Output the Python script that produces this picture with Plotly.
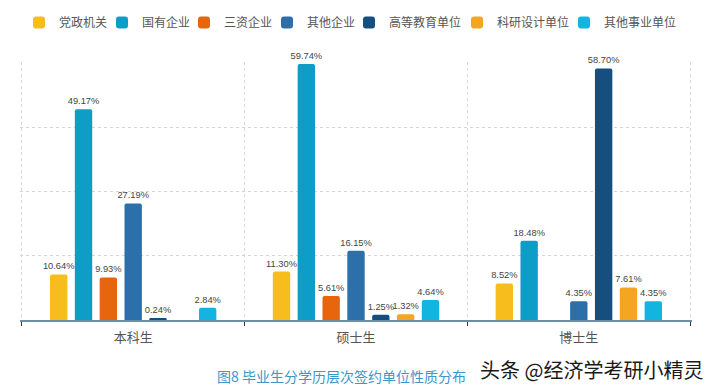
import plotly.graph_objects as go

categories = ["本科生", "硕士生", "博士生"]
series_names = ["党政机关", "国有企业", "三资企业", "其他企业", "高等教育单位", "科研设计单位", "其他事业单位"]
dangzheng = [10.64, 11.30, 8.52]
guoyou = [49.17, 59.74, 18.48]
sanzi = [9.93, 5.61, None]
qita_qiye = [27.19, 16.15, 4.35]
gaodeng = [0.24, 1.25, 58.70]
keyan = [None, 1.32, 7.61]
qita_shiye = [2.84, 4.64, 4.35]
series_values = [dangzheng, guoyou, sanzi, qita_qiye, gaodeng, keyan, qita_shiye]
colors = ["#F6BD1C", "#0D9DC7", "#E6650D", "#2C6FA9", "#154F80", "#F4A623", "#14B4E1"]

title_text = "图8 毕业生分学历层次签约单位性质分布"
watermark = "头条 @经济学考研小精灵"

FONT = "Noto Sans CJK SC"
W, H = 715, 387
# legend entry left positions (px, layout only)
legend_px = [35, 118, 200, 283, 365, 473, 580]

fig = go.Figure()
legend_layout = {}
for i, (name, vals, col) in enumerate(zip(series_names, series_values, colors)):
    lname = "legend" if i == 0 else f"legend{i + 1}"
    fig.add_trace(go.Bar(
        name=name, x=categories, y=vals,
        marker=dict(color=col, cornerradius=2, line=dict(width=0)),
        text=[None if v is None else f"{v:.2f}%" for v in vals],
        textposition="outside", constraintext="none",
        textfont=dict(size=9.3, color="#444444", family="Liberation Sans"),
        cliponaxis=False, legend=lname,
    ))
    legend_layout[lname] = dict(
        x=(legend_px[i] - 16) / W, xref="container", xanchor="left",
        y=1 - 8 / H, yref="container", yanchor="top",
        orientation="h", itemwidth=30,
        font=dict(size=12, color="#555555", family=FONT),
        bgcolor="rgba(0,0,0,0)", borderwidth=0,
    )

fig.update_layout(
    width=W, height=H,
    margin=dict(l=20, r=23, t=62, b=67, autoexpand=False),
    paper_bgcolor="white", plot_bgcolor="white",
    barmode="group", bargap=0.22, bargroupgap=0.3,
    font=dict(family=FONT, color="#444444"),
    showlegend=True,
    **legend_layout,
)
fig.update_xaxes(
    type="category", tickson="boundaries", range=[-0.508, 2.508],
    showgrid=True, gridcolor="#D8D8D8", griddash="dot",
    showline=True, linecolor="#6E8EA6", linewidth=2,
    ticks="outside", ticklen=4, tickcolor="#333333", ticklabelstandoff=4,
    tickfont=dict(size=13, color="#555555", family=FONT),
)
fig.update_yaxes(
    range=[0, 60.2], showticklabels=False, dtick=15, showgrid=True,
    gridcolor="#D5D5D5", griddash="dot", zeroline=False, showline=False,
)
fig.add_annotation(text=title_text, xref="paper", yref="paper", x=0.478, y=-0.217,
                   xanchor="center", yanchor="middle", showarrow=False,
                   font=dict(size=14, color="#3A97C9", family=FONT))
fig.add_annotation(text=watermark, xref="paper", yref="paper", x=1.02, y=-0.192,
                   xanchor="right", yanchor="middle", showarrow=False,
                   font=dict(size=20, color="#1A1A1A", family=FONT))

fig.write_html("out.html", config={"displayModeBar": False},
               post_script="document.body.style.margin='0px';document.body.style.overflow='hidden';")
